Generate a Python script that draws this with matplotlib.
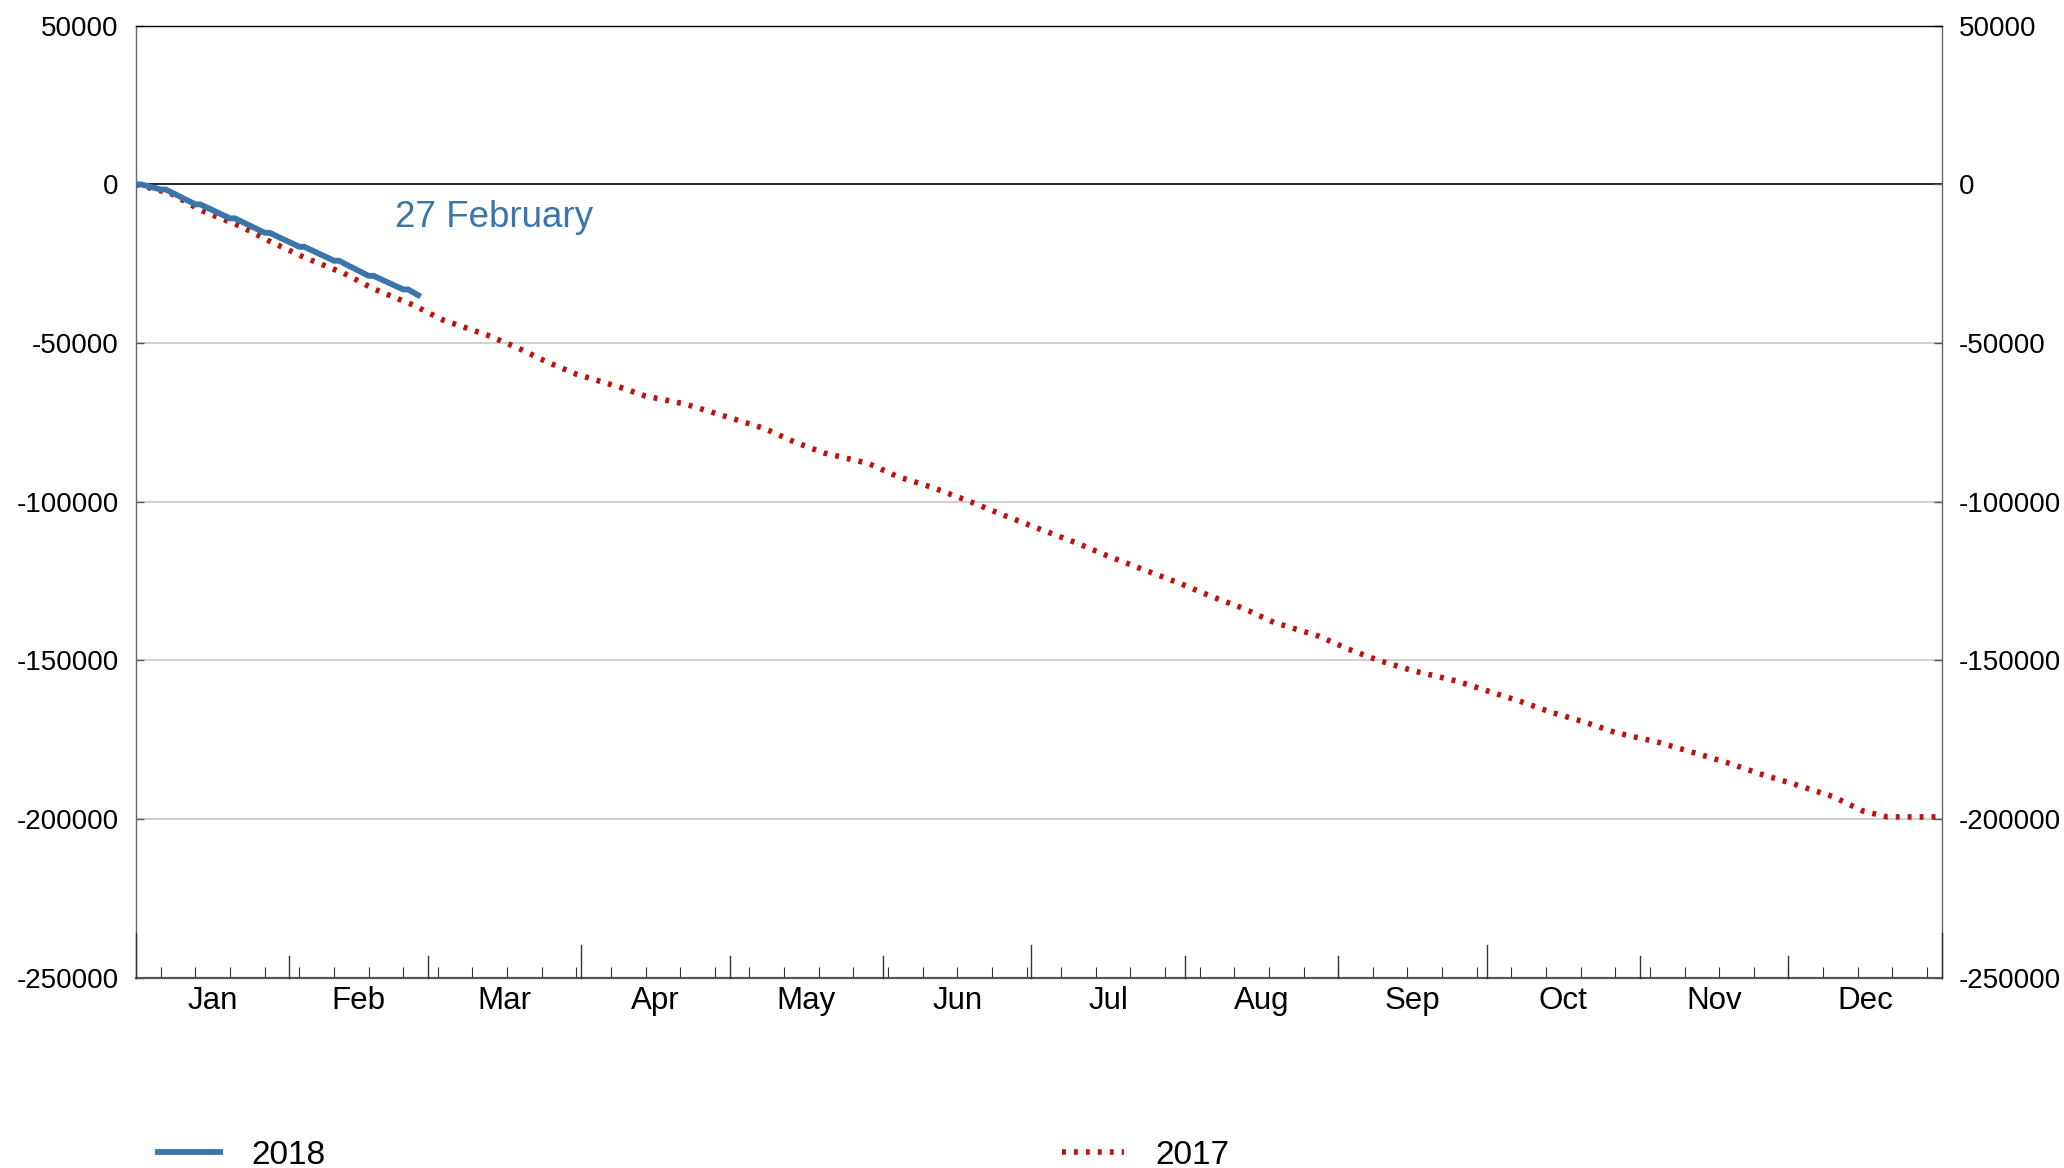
import matplotlib
matplotlib.use('Agg')
import numpy as np
import matplotlib.pyplot as plt
import matplotlib.transforms as mtransforms

plt.rcParams['font.family'] = ['Liberation Sans', 'DejaVu Sans']

# cumulative values, day of year (0 = 1 January)
days_2018 = [0, 1, 5, 6, 12, 13, 19, 20, 26, 27, 33, 34, 40, 41, 47, 48, 54, 55, 57]
vals_2018 = [0, 0, -1600, -1600, -6300, -6300, -10700, -10700, -15250, -15250,
             -19650, -19650, -24050, -24050, -28800, -28800, -33100, -33100, -34900]

days_2017 = [0, 7, 13, 21, 27, 34, 42, 48, 56, 62, 71, 77, 83, 89, 98, 103, 111, 120,
             127, 133, 139, 148, 154, 161, 169, 175, 182, 190, 196, 203, 211, 217, 224,
             230, 239, 245, 251, 258, 267, 273, 280, 286, 293, 299, 308, 315, 322, 328,
             335, 343, 349, 354, 364]
vals_2017 = [0, -2800, -8100, -13100, -17900, -23000, -28000, -32900, -38000, -42700,
             -47500, -51400, -55900, -59800, -64000, -66700, -69200, -73500, -76900,
             -81100, -84600, -87900, -92100, -95500, -100200, -104000, -108200, -112900,
             -116800, -121000, -125700, -129600, -133700, -138000, -142300, -146400,
             -149900, -153200, -156500, -159500, -163000, -166300, -169500, -172700,
             -175900, -179100, -182400, -185600, -188900, -192900, -197400, -199300, -199300]

months = ['Jan', 'Feb', 'Mar', 'Apr', 'May', 'Jun', 'Jul', 'Aug', 'Sep', 'Oct', 'Nov', 'Dec']
month_len = [31, 28, 31, 30, 31, 30, 31, 31, 30, 31, 30, 31]
yticks = [50000, 0, -50000, -100000, -150000, -200000, -250000]
label_date = '27 February'

blue = '#3A76AB'
red = '#C0120C'

fig = plt.figure(figsize=(20.64, 11.68), dpi=100)
ax = fig.add_axes([0.0659, 0.1628, 0.8749, 0.8152])

ax.set_xlim(0, 365)
ax.set_ylim(-250000, 50000)

for y in yticks[2:-1]:
    ax.axhline(y, color='#c8c8c8', lw=1.2, zorder=1)
ax.axhline(0, color='black', lw=1.2, zorder=1)

ax.plot(days_2017, vals_2017, color=red, lw=4, dashes=(0.7, 1.45), label='2017', zorder=3)
ax.plot(days_2018, vals_2018, color=blue, lw=4.2, label='2018', zorder=4,
        solid_joinstyle='miter')

ax.text(52.4, -13500, label_date, color=blue, fontsize=26.5, va='baseline')

# y axis on both sides
ax.set_yticks(yticks)
ax.set_yticklabels([str(v) for v in yticks])
ax.tick_params(axis='y', left=True, right=True, labelleft=True, labelright=True,
               direction='in', length=5.8, width=1, color='#555555', pad=12.5,
               labelsize=20)

# x axis: weekly ticks, month labels in between
month_starts = np.concatenate([[0], np.cumsum(month_len)])
mids = (month_starts[:-1] + month_starts[1:]) / 2
ax.xaxis.remove_overlapping_locs = False
ax.set_xticks(np.arange(5, 365, 7))
ax.set_xticks(mids, minor=True)
ax.set_xticklabels(months, minor=True)
ax.tick_params(axis='x', which='major', direction='in', length=7.7, width=0.8,
               color='#333333', labelbottom=False)
ax.tick_params(axis='x', which='minor', length=0, pad=6, labelsize=22.5)

trans = mtransforms.blended_transform_factory(ax.transData, ax.transAxes)
for i, m in enumerate(month_starts):
    if i == 0 or i == 12:
        h = 0.0473
    elif i % 3 == 0:
        h = 0.0343
    else:
        h = 0.0228
    ax.plot([m, m], [0, h], color='#333333', lw=1, transform=trans, clip_on=False, zorder=5)

for s in ['left', 'right']:
    ax.spines[s].set_color('#666666')
    ax.spines[s].set_linewidth(1)
ax.spines['top'].set_color('black')
ax.spines['top'].set_linewidth(1)
ax.spines['bottom'].set_color('#555555')
ax.spines['bottom'].set_linewidth(1.6)

handles, labels = ax.get_legend_handles_labels()
order = [1, 0]
fig.legend([handles[i] for i in order], [labels[i] for i in order],
           loc='center left', bbox_to_anchor=(0.0766, 0.011), ncol=2,
           frameon=False, fontsize=24, handlelength=1.86, handletextpad=0.93,
           columnspacing=22.1, borderpad=0, borderaxespad=0)

fig.savefig('out.png', dpi=100)
